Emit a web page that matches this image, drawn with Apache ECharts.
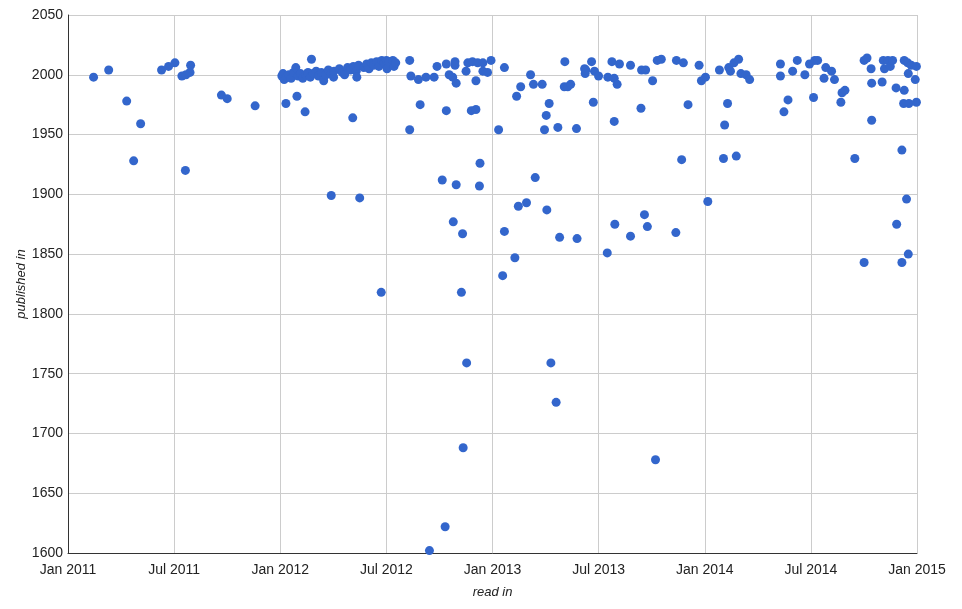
<!DOCTYPE html>
<html>
<head>
<meta charset="utf-8">
<script src="https://cdn.jsdelivr.net/npm/echarts@6/dist/echarts.min.js"></script>
<style>
	html, body { margin: 0; padding: 0; background: #fff; }
	#chart { width: 962px; height: 609px; }
</style>
</head>
<body>
<div id="chart"></div>
<script>
// [date read, year published]
var read2011 = [
	['2011-02-14', 1998], ['2011-03-12', 2004], ['2011-04-12', 1978], ['2011-04-24', 1928],
	['2011-05-06', 1959], ['2011-06-11', 2004], ['2011-06-23', 2007], ['2011-07-04', 2010],
	['2011-07-16', 1999], ['2011-07-22', 1920], ['2011-07-23', 2000], ['2011-07-30', 2002],
	['2011-07-31', 2008], ['2011-09-22', 1983], ['2011-10-02', 1980], ['2011-11-19', 1974]
];
var read2012 = [
	['2012-01-04', 1999], ['2012-01-06', 2001], ['2012-01-08', 1996], ['2012-01-12', 1998],
	['2012-01-16', 2000], ['2012-01-20', 1997], ['2012-01-24', 2002], ['2012-01-28', 2006],
	['2012-02-01', 1999], ['2012-02-05', 2001], ['2012-02-09', 1997], ['2012-02-14', 2000],
	['2012-02-18', 2002], ['2012-02-22', 1998], ['2012-02-27', 2001], ['2012-03-03', 2003],
	['2012-03-07', 1999], ['2012-03-12', 2002], ['2012-03-16', 1995], ['2012-03-20', 2000],
	['2012-03-24', 2004], ['2012-03-29', 2001], ['2012-04-02', 1998], ['2012-04-03', 2003],
	['2012-04-12', 2005], ['2012-04-17', 2002], ['2012-04-21', 2000], ['2012-04-26', 2006],
	['2012-05-01', 2004], ['2012-05-06', 2007], ['2012-05-11', 2003], ['2012-05-12', 1998],
	['2012-05-15', 2008], ['2012-05-24', 2006], ['2012-05-29', 2009], ['2012-06-02', 2005],
	['2012-06-06', 2010], ['2012-06-10', 2008], ['2012-06-15', 2011], ['2012-06-19', 2007],
	['2012-06-24', 2012], ['2012-06-28', 2010], ['2012-07-02', 2012], ['2012-07-03', 2005],
	['2012-07-06', 2011], ['2012-07-13', 2012], ['2012-07-15', 2007], ['2012-07-18', 2010],
	['2012-01-11', 1976], ['2012-01-30', 1982], ['2012-02-13', 1969], ['2012-02-24', 2013],
	['2012-03-29', 1899], ['2012-05-05', 1964], ['2012-05-17', 1897], ['2012-06-23', 1818],
	['2012-08-11', 2012], ['2012-08-13', 1999], ['2012-08-11', 1954], ['2012-08-26', 1996],
	['2012-08-29', 1975], ['2012-09-08', 1998], ['2012-09-14', 1602], ['2012-09-22', 1998],
	['2012-09-27', 2007], ['2012-10-06', 1912], ['2012-10-11', 1622], ['2012-10-13', 2009],
	['2012-10-13', 1970], ['2012-10-18', 2000], ['2012-10-24', 1998], ['2012-10-25', 1877],
	['2012-10-28', 2011], ['2012-10-28', 2008], ['2012-10-30', 1993], ['2012-10-30', 1908],
	['2012-11-08', 1818], ['2012-11-10', 1867], ['2012-11-11', 1688], ['2012-11-16', 2003],
	['2012-11-17', 1759], ['2012-11-19', 2010], ['2012-11-25', 1970], ['2012-11-27', 2011],
	['2012-12-03', 1995], ['2012-12-03', 1971], ['2012-12-06', 2010], ['2012-12-09', 1907],
	['2012-12-10', 1926], ['2012-12-15', 2010], ['2012-12-15', 2003], ['2012-12-23', 2002],
	['2012-12-29', 2012]
];
var read2013 = [
	['2013-01-11', 1954], ['2013-01-18', 1832], ['2013-01-21', 1869], ['2013-01-21', 2006],
	['2013-02-08', 1847], ['2013-02-11', 1982], ['2013-02-14', 1890], ['2013-02-18', 1990],
	['2013-02-28', 1893], ['2013-03-07', 2000], ['2013-03-12', 1992], ['2013-03-15', 1914],
	['2013-03-27', 1992], ['2013-03-31', 1954], ['2013-04-03', 1966], ['2013-04-04', 1887],
	['2013-04-08', 1976], ['2013-04-11', 1759], ['2013-04-20', 1726], ['2013-04-23', 1956],
	['2013-04-26', 1864], ['2013-05-04', 1990], ['2013-05-05', 2011], ['2013-05-10', 1990],
	['2013-05-15', 1992], ['2013-05-25', 1955], ['2013-05-26', 1863], ['2013-06-08', 2005],
	['2013-06-09', 2001], ['2013-06-10', 2004], ['2013-06-20', 2011], ['2013-06-23', 1977],
	['2013-06-25', 2003], ['2013-07-02', 1999], ['2013-07-17', 1851], ['2013-07-18', 1998],
	['2013-07-25', 2011], ['2013-07-29', 1997], ['2013-07-29', 1961], ['2013-07-30', 1875],
	['2013-08-03', 1992], ['2013-08-07', 2009], ['2013-08-26', 2008], ['2013-08-26', 1865],
	['2013-09-13', 1972], ['2013-09-14', 2004], ['2013-09-19', 1883], ['2013-09-21', 2004],
	['2013-09-24', 1873], ['2013-10-03', 1995], ['2013-10-08', 1678], ['2013-10-11', 2012],
	['2013-10-18', 2013], ['2013-11-12', 1868], ['2013-11-13', 2012], ['2013-11-22', 1929],
	['2013-11-25', 2010], ['2013-12-03', 1975], ['2013-12-22', 2008], ['2013-12-26', 1995]
];
var read2014 = [
	['2014-01-02', 1998], ['2014-01-06', 1894], ['2014-01-26', 2004], ['2014-02-02', 1930],
	['2014-02-04', 1958], ['2014-02-09', 1976], ['2014-02-11', 2006], ['2014-02-14', 2003],
	['2014-02-20', 2010], ['2014-02-24', 1932], ['2014-02-28', 2013], ['2014-03-04', 2001],
	['2014-03-13', 2000], ['2014-03-19', 1996], ['2014-05-11', 2009], ['2014-05-11', 1999],
	['2014-05-17', 1969], ['2014-05-24', 1979], ['2014-06-01', 2003], ['2014-06-09', 2012],
	['2014-06-22', 2000], ['2014-06-30', 2009], ['2014-07-07', 1981], ['2014-07-09', 2012],
	['2014-07-14', 2012], ['2014-07-25', 1997], ['2014-07-28', 2006], ['2014-08-07', 2003],
	['2014-08-12', 1996], ['2014-08-23', 1977], ['2014-08-25', 1985], ['2014-08-30', 1987],
	['2014-09-16', 1930], ['2014-10-02', 2012], ['2014-10-02', 1843], ['2014-10-07', 2014],
	['2014-10-14', 2005], ['2014-10-15', 1993], ['2014-10-15', 1962], ['2014-11-02', 1994],
	['2014-11-04', 2012], ['2014-11-06', 2005], ['2014-11-12', 2012], ['2014-11-16', 2007],
	['2014-11-20', 2012], ['2014-11-26', 1989], ['2014-11-27', 1875], ['2014-12-06', 1937],
	['2014-12-06', 1843], ['2014-12-09', 1976], ['2014-12-10', 2012], ['2014-12-10', 1987],
	['2014-12-14', 1896], ['2014-12-16', 2010], ['2014-12-17', 2001], ['2014-12-17', 1850],
	['2014-12-18', 1976], ['2014-12-22', 2008], ['2014-12-29', 1996], ['2014-12-31', 2007],
	['2014-12-31', 1977]
];

var startDay = Date.UTC(2011, 0, 1);
var DAY = 86400000;
var monthNames = ['Jan', 'Feb', 'Mar', 'Apr', 'May', 'Jun', 'Jul', 'Aug', 'Sep', 'Oct', 'Nov', 'Dec'];

// days since Jan 2011 on the x axis
function toDays(s) {
	var p = s.split('-');
	return (Date.UTC(+p[0], +p[1] - 1, +p[2]) - startDay) / DAY;
}

var points = [];
[read2011, read2012, read2013, read2014].forEach(function(list) {
	list.forEach(function(d) {
		points.push([toDays(d[0]), d[1]]);
	});
});

var totalDays = toDays('2015-01-01');

var myChart = echarts.init(document.getElementById('chart'));
var option = {
	animation: false,
	textStyle: { fontFamily: 'Liberation Sans, Arial, sans-serif' },
	grid: { left: 68, right: 45, top: 15, bottom: 56, containLabel: false, outerBoundsMode: 'none' },
	xAxis: {
		type: 'value',
		min: 0,
		max: totalDays,
		interval: totalDays / 8,
		name: 'read in',
		nameLocation: 'middle',
		nameGap: 33,
		nameMoveOverlap: false,
		nameTextStyle: { fontStyle: 'italic', fontSize: 13, color: '#222' },
		axisLine: { show: true, lineStyle: { color: '#333', width: 1 } },
		axisTick: { show: false },
		axisLabel: {
			fontSize: 14,
			color: '#222',
			margin: 10,
			formatter: function(v) {
				var d = new Date(startDay + v * DAY);
				var y = d.getUTCFullYear(), m = d.getUTCMonth();
				if (d.getUTCDate() > 15) { m++; if (m > 11) { m = 0; y++; } }
				return monthNames[m] + ' ' + y;
			}
		},
		splitLine: { show: true, lineStyle: { color: '#ccc' } }
	},
	yAxis: {
		type: 'value',
		min: 1600,
		max: 2050,
		interval: 50,
		name: 'published in',
		nameLocation: 'middle',
		nameGap: 40,
		nameMoveOverlap: false,
		nameTextStyle: { fontStyle: 'italic', fontSize: 13, color: '#222' },
		axisLine: { show: true, lineStyle: { color: '#333', width: 1 } },
		axisTick: { show: false },
		axisLabel: {
			fontSize: 14,
			color: '#222',
			margin: 5,
			formatter: function(v) { return String(v); }
		},
		splitLine: { show: true, lineStyle: { color: '#ccc' } }
	},
	series: [{
		type: 'scatter',
		symbolSize: 9,
		itemStyle: { color: '#3366cc', opacity: 1 },
		data: points
	}]
};
myChart.setOption(option);
</script>
</body>
</html>
